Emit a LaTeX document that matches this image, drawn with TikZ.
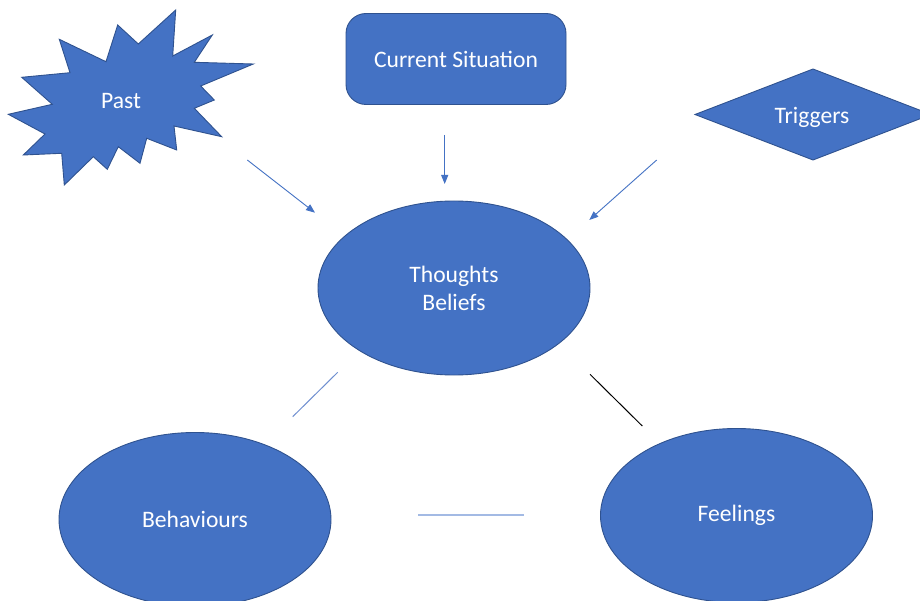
\documentclass[tikz,border=0pt]{standalone}
\usepackage{fontspec}
\setmainfont{Carlito}
\usetikzlibrary{shapes.geometric,arrows.meta}
\definecolor{shapefill}{HTML}{4472C4}
\definecolor{shapeedge}{HTML}{2F528F}
\definecolor{linkblue}{HTML}{4472C4}
\definecolor{softblue}{HTML}{6F8FD0}
\definecolor{paleblue}{HTML}{A3BAE4}
\tikzset{
  blob/.style={fill=shapefill, draw=shapeedge, line width=0.9pt},
  label/.style={text=white, font=\fontsize{23.6}{28}\selectfont, align=center, inner sep=0pt},
  oval/.style={blob, label, ellipse, minimum width=272pt, minimum height=174pt},
  pointer/.style={draw=linkblue, line width=0.9pt, -{Triangle[length=9pt,width=7pt]}},
}
\begin{document}
\begin{tikzpicture}[x=1pt,y=-1pt]
\clip (0,0) rectangle (920,601);
\fill[white] (0,0) rectangle (920,601);

% starburst for the past
\filldraw[blob] (175.7,10) -- (172.7,56) -- (212.3,35) -- (194.3,62.3) -- (253.3,64)
  -- (200.7,86) -- (214.3,100) -- (194.3,108.3) -- (221.7,136.7) -- (174,126)
  -- (176.7,150) -- (146.7,138.3) -- (140,163.3) -- (118.3,146.7) -- (107.3,169.3)
  -- (93.3,156.7) -- (64.3,185) -- (61.7,153.3) -- (23.3,155) -- (45,134)
  -- (8.3,114.3) -- (52.3,104.3) -- (21.7,77.3) -- (70,72.7) -- (59.3,39.3)
  -- (106,61.7) -- (117.7,25) -- (138.3,44) -- cycle;
\node[label] (past) at (121,101.5) {Past};

% current situation box
\node[blob, label, rectangle, rounded corners=20pt, minimum width=220pt, minimum height=91pt]
  (current) at (456,59) {Current Situation};

% triggers diamond
\filldraw[blob] (695,114.5) -- (813,69) -- (931,114.5) -- (813,160) -- cycle;
\node[label] (triggers) at (812,117) {Triggers};

% central and lower ellipses
\node[oval] (thoughts) at (454,288) {Thoughts\\Beliefs};
\node[oval] (behaviours) at (195,519.5) {Behaviours};
\node[oval] (feelings) at (736.5,515.5) {Feelings};

% free-standing connector ends
\coordinate (pastA) at (247.3,160);
\coordinate (pastB) at (315,212.7);
\coordinate (curA) at (444.7,135);
\coordinate (curB) at (444.7,184);
\coordinate (trigA) at (656.7,160);
\coordinate (trigB) at (589.3,220);
\coordinate (behA) at (337.7,372.3);
\coordinate (behB) at (292.7,416.7);
\coordinate (feelA) at (590,374.3);
\coordinate (feelB) at (642.3,426);
\coordinate (midA) at (418.3,515);
\coordinate (midB) at (524,515);

\draw[pointer] (pastA) -- (pastB);
\draw[pointer] (curA) -- (curB);
\draw[pointer] (trigA) -- (trigB);
\draw[softblue, line width=1pt] (behA) -- (behB);
\draw[black, line width=1pt] (feelA) -- (feelB);
\draw[paleblue, line width=2pt] (midA) -- (midB);
\end{tikzpicture}
\end{document}
